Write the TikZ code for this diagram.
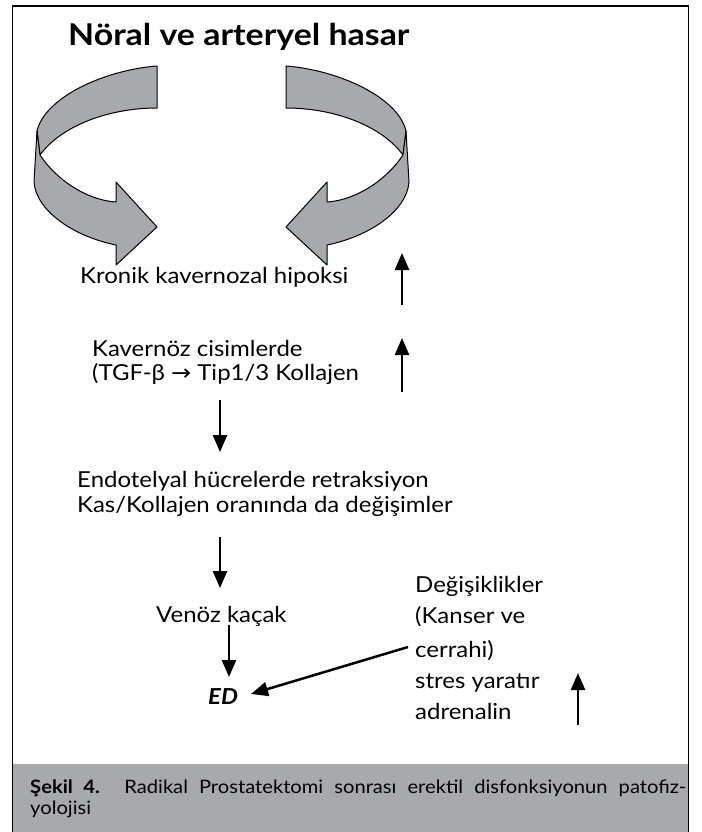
\documentclass[tikz,border=0pt]{standalone}
\usepackage{fontspec}
\setmainfont{Lato}[FakeStretch=1.09]
\newfontfamily\titlefont{Lato}[FakeStretch=1.13]
\newfontfamily\symfont{DejaVu Sans}[FakeStretch=1.09]
\usetikzlibrary{arrows.meta}
\definecolor{ribbongray}{HTML}{A7A9AC}
\definecolor{bandgray}{HTML}{A7A9AC}

\tikzset{
  txt/.style={anchor=base west, inner sep=0pt, font=\fontsize{22}{26}\selectfont},
  headline/.style={anchor=base west, inner sep=0pt, font=\titlefont\fontsize{30}{34}\selectfont\bfseries},
  captxt/.style={anchor=base west, inner sep=0pt, font=\fontsize{18.5}{22}\selectfont},
  flow/.style={line width=2.5pt, -{Triangle[length=17pt,width=14pt]}},
  ribbonpart/.style={fill=ribbongray, draw=black, line width=1pt, line join=round},
  ribbon/.pic={
    % back half of the twisted band
    \path[ribbonpart] (157,66) .. controls (105,70) and (45,97) .. (37,131)
      -- (40,155) .. controls (62,125) and (110,108) .. (157,108) -- cycle;
    % front half ending in the arrow head
    \path[ribbonpart] (37,131) -- (34,182)
      .. controls (36,210) and (72,236) .. (116,245)
      -- (116,265) -- (157,227) -- (116,182) -- (116,202)
      .. controls (85,200) and (55,178) .. (40,155) -- cycle;
  }
}

\begin{document}
\begin{tikzpicture}[x=1pt,y=-1pt]
\useasboundingbox (0,0) rectangle (701,832);
\fill[white] (0,0) rectangle (701,832);

% caption band and frame
\fill[bandgray] (12.5,764) rectangle (688.5,832);
\draw[line width=1.2pt] (12.5,832) -- (12.5,6) -- (688.5,6) -- (688.5,832);

% title
\node[headline] (title) at (68,46) {Nöral ve arteryel hasar};

% twisted cycle arrows
\pic (ribbonL) at (0,0) {ribbon};
\pic[xscale=-1] (ribbonR) at (443,0) {ribbon};

% flow texts
\node[txt] (hypoxia) at (80,283) {Kronik kavernozal hipoksi};
\node[txt] (cav1) at (92,356) {Kavernöz cisimlerde};
\node[txt] (cav2) at (92,380) {(TGF-β {\symfont →} Tip1/3 Kollajen};
\node[txt] (endo1) at (77,487) {Endotelyal hücrelerde retraksiyon};
\node[txt] (endo2) at (77,512) {Kas/Kollajen oranında da değişimler};
\node[txt] (venous) at (156,622) {Venöz kaçak};
\node[anchor=base west, inner sep=0pt, font=\fontsize{22}{26}\selectfont\bfseries\itshape] (ed) at (208,704) {ED};

\node[txt] (chg1) at (415,592) {Değişiklikler};
\node[txt] (chg2) at (415,623) {(Kanser ve};
\node[txt] (chg3) at (415,657) {cerrahi)};
\node[txt] (chg4) at (415,688) {stres yaratır};
\node[txt] (chg5) at (415,719) {adrenalin};

% arrow end points
\coordinate (u1s) at (402,305); \coordinate (u1e) at (402,253);
\coordinate (u2s) at (402,392); \coordinate (u2e) at (402,338);
\coordinate (d1s) at (220,400); \coordinate (d1e) at (220,452);
\coordinate (d2s) at (220,537); \coordinate (d2e) at (220,588);
\coordinate (d3s) at (229,625); \coordinate (d3e) at (229,677);
\coordinate (stress) at (408,647); \coordinate (edin) at (251,694);
\coordinate (u3s) at (578,725); \coordinate (u3e) at (578,673);

\draw[flow] (u1s) -- (u1e);
\draw[flow] (u2s) -- (u2e);
\draw[flow] (d1s) -- (d1e);
\draw[flow] (d2s) -- (d2e);
\draw[flow] (d3s) -- (d3e);
\draw[flow] (stress) -- (edin);
\draw[flow] (u3s) -- (u3e);

% caption
\node[captxt] (cap1) at (30,793) {\makebox[656pt][s]{\textbf{Şekil 4.} Radikal Prostatektomi sonrası erektil disfonksiyonun patofiz-}};
\node[captxt] (cap2) at (30,814) {yolojisi};
\end{tikzpicture}
\end{document}
